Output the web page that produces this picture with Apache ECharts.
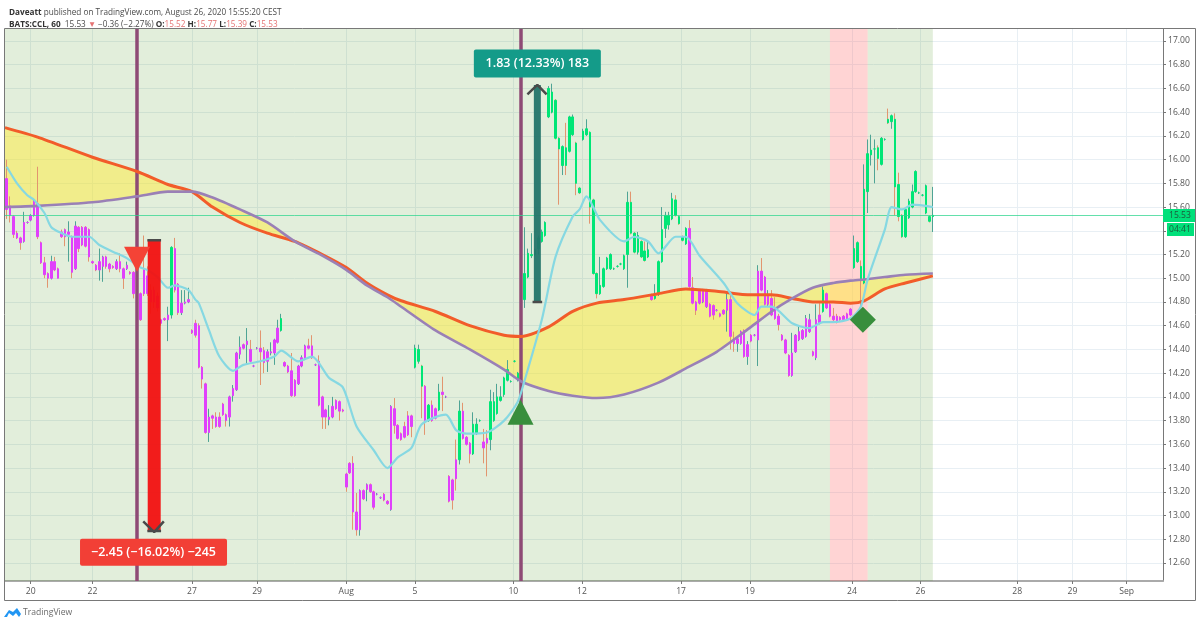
<!DOCTYPE html>
<html>
<head>
<meta charset="utf-8">
<title>BATS:CCL, 60</title>
<script src="https://cdn.jsdelivr.net/npm/echarts@6/dist/echarts.min.js"></script>
<style>
html,body{margin:0;padding:0;background:#fff}
#main{width:1200px;height:625px}
</style>
</head>
<body>
<div id="main"></div>
<script>
// hourly bars: open, close, low, high
var julyBars = [
[15.84,15.58,15.5,16.0],[15.61,15.53,15.47,15.69],[15.52,15.37,15.34,15.53],[15.38,15.34,15.33,15.4],[15.34,15.3,15.24,15.35],
[15.31,15.47,15.3,15.56],[15.47,15.47,15.46,15.48],[15.49,15.53,15.48,15.54],[15.53,15.65,15.52,15.66],[15.63,15.35,15.33,15.94],
[15.3,15.13,15.12,15.31],[15.13,15.03,15.0,15.18],[15.04,15.0,14.92,15.05],[15.0,15.14,14.99,15.19],[15.14,15.07,15.06,15.18],
[15.08,15.0,15.0,15.09],[15.39,15.35,15.34,15.41],[15.41,15.35,15.27,15.42],[15.37,15.39,15.14,15.48],[15.35,15.05,15.0,15.36],
[15.08,15.44,15.07,15.48],[15.43,15.25,15.22,15.44],[15.43,15.28,15.27,15.44],[15.43,15.27,15.26,15.44],[15.41,15.18,15.14,15.42],
[15.14,15.13,15.12,15.15],[15.11,15.07,15.06,15.12],[15.07,15.14,14.98,15.25],[15.1,15.18,14.97,15.19],[15.18,15.1,15.08,15.19],
[15.12,15.08,15.05,15.13],[15.1,15.09,15.08,15.11],[15.08,15.14,15.07,15.16],[15.14,15.08,15.05,15.21],[15.08,15.0,14.91,15.09],
[15.08,15.11,15.07,15.14],[15.05,15.04,15.03,15.06],[15.05,14.87,14.83,15.06],[15.0,14.82,14.8,15.05],[14.87,14.65,14.64,14.88],
[15.07,14.87,14.85,15.36],[15.02,14.87,14.85,15.1],[14.9,14.8,14.7,14.95],[14.9,14.8,14.75,14.93],[14.85,14.75,14.72,14.88],
[14.65,14.62,14.6,14.66],[14.66,14.65,14.64,14.67],[14.65,14.69,14.47,14.76],[14.69,15.26,14.66,15.27],[15.25,14.9,14.88,15.34],
[14.95,14.71,14.69,14.96],[14.71,14.79,14.69,14.9],[14.79,14.8,14.78,14.9],[14.8,14.82,14.79,14.92],[14.56,14.54,14.53,14.57],
[14.62,14.52,14.5,14.65],[14.6,14.25,14.24,14.62],[14.25,14.15,14.07,14.26],[14.11,13.7,13.69,14.12],[13.7,13.83,13.62,13.9],
[13.84,13.82,13.73,13.85],[13.83,13.75,13.74,13.87],[13.83,13.75,13.74,13.87],[13.94,13.85,13.84,13.95],[13.85,13.8,13.75,13.86],
[13.83,14.0,13.75,14.01],[14.01,14.07,13.96,14.1],[14.06,14.37,14.05,14.38],[14.36,14.42,14.32,14.51],[14.44,14.41,14.4,14.45],
[14.44,14.47,14.27,14.58],[14.4,14.3,14.29,14.48],[14.26,14.26,14.25,14.27],[14.41,14.41,14.4,14.42],[14.41,14.38,14.1,14.56],
[14.39,14.29,14.2,14.42],[14.3,14.38,14.21,14.4],[14.37,14.38,14.35,14.46],[14.37,14.48,14.27,14.49],[14.46,14.58,14.45,14.65],
[14.56,14.66,14.55,14.7],[14.29,14.26,14.25,14.3],[14.26,14.21,14.2,14.27],[14.22,14.01,14.0,14.37],[14.14,14.01,14.0,14.15],
[14.11,14.26,14.1,14.27],[14.26,14.33,14.25,14.35],[14.32,14.43,14.31,14.44],[14.43,14.41,14.4,14.49],[14.43,14.33,14.32,14.52],
[14.27,14.27,14.26,14.28],[14.3,13.93,13.92,14.35],[14.0,13.83,13.73,14.01],[13.89,13.83,13.73,13.9],[13.81,13.83,13.76,13.93],
[13.83,13.92,13.82,14.0],[13.97,13.9,13.89,13.98],[13.96,13.88,13.8,13.97],[13.89,13.88,13.87,13.9]
];
var earlyAugBars = [
[13.35,13.24,13.2,13.36],[13.44,13.36,13.35,13.45],[13.44,13.03,12.88,13.5],[13.03,12.88,12.83,13.19],[12.88,13.21,12.83,13.22],
[13.21,13.14,13.13,13.22],[13.22,13.26,13.12,13.27],[13.26,13.2,13.19,13.27],[13.2,13.07,13.05,13.21],[13.18,13.18,13.17,13.19],
[13.15,13.15,13.14,13.16],[13.18,13.13,13.12,13.19],[13.12,13.1,13.09,13.13],[13.05,13.92,13.04,13.93],[13.9,13.76,13.69,13.99],
[13.76,13.65,13.64,13.77],[13.69,13.64,13.63,13.7],[13.75,13.66,13.65,13.79],[13.84,13.68,13.67,13.88],[13.84,13.75,13.66,13.85],
[14.25,14.41,14.24,14.44],[14.3,14.4,14.28,14.44],[14.26,14.09,13.82,14.27],[14.09,13.8,13.68,14.1],[13.8,13.93,13.79,13.94],
[13.93,13.8,13.79,13.97],[13.9,13.82,13.81,13.91],[13.89,14.04,13.88,14.11],[14.04,14.02,13.88,14.17],[14.0,14.0,13.99,14.01],
[13.33,13.12,13.11,13.34],[13.3,13.13,13.05,13.31],[13.47,13.31,13.21,13.64],[13.47,13.88,13.43,13.97],[13.88,13.65,13.64,13.95],
[13.66,13.6,13.59,13.67],[13.61,13.52,13.44,13.62],[13.52,13.77,13.51,13.87],[13.69,13.77,13.68,13.82],[13.8,13.8,13.79,13.81],
[13.62,13.57,13.44,13.73],[13.65,13.61,13.33,13.72],[13.64,13.96,13.55,14.06],[13.8,13.96,13.79,14.04],[13.86,14.0,13.85,14.11],
[13.97,14.0,13.96,14.09],[14.02,14.16,14.0,14.17],[14.14,14.23,14.13,14.31],[14.13,14.13,14.12,14.14],[14.3,14.3,14.29,14.31],
[14.14,14.2,14.13,14.21]
];
var midAugBars = [
[14.14,14.85,14.13,14.9],[14.82,15.04,14.75,15.43],[15.01,15.21,15.0,15.25],[15.19,15.2,15.17,15.38],[15.2,15.24,15.19,15.25],
[15.25,15.34,15.2,15.36],[15.31,15.39,15.3,15.41],[15.36,15.47,15.35,15.48],[16.36,16.6,16.35,16.62],[16.4,16.57,16.39,16.64],
[16.5,16.18,16.17,16.51],[16.18,16.09,15.62,16.19],[15.95,16.11,15.87,16.12],[16.1,15.95,15.87,16.31],[16.07,16.36,16.06,16.37],
[16.21,16.36,16.2,16.38],[16.14,15.8,15.7,16.15],[15.76,15.72,15.71,15.77],[16.17,16.24,16.16,16.26],[16.21,16.26,16.2,16.34],
[16.23,15.6,15.46,16.24],[15.66,15.04,15.03,15.67],[15.04,14.87,14.83,15.05],[14.87,14.94,14.86,15.18],[14.93,15.08,14.92,15.09],
[15.08,15.17,15.07,15.18],[15.08,15.2,15.07,15.21],[15.08,15.08,15.07,15.09],[15.1,15.1,15.09,15.11],[15.12,15.12,15.11,15.13],
[15.08,15.19,15.07,15.2],[15.2,15.64,14.92,15.73],[15.64,15.38,15.37,15.73],[15.38,15.22,15.21,15.39],[15.22,15.36,15.2,15.39],
[15.31,15.18,15.17,15.32],[15.23,15.15,15.14,15.31],[15.18,15.24,15.17,15.32],[14.86,14.82,14.81,14.87],[14.83,14.85,14.82,14.95],
[14.87,15.14,14.85,15.15],[15.14,15.41,15.13,15.6],[15.42,15.53,15.34,15.56],[15.45,15.53,15.41,15.56],[15.5,15.67,15.49,15.72],
[15.66,15.53,15.52,15.7],[15.52,15.46,15.45,15.53],[15.35,15.32,15.31,15.36],[15.29,15.42,15.28,15.43]
];
var lateAugBars = [
[15.42,14.93,14.92,15.49],[14.92,14.79,14.78,15.01],[14.8,14.73,14.69,14.81],[14.79,14.9,14.78,14.91],[14.8,14.9,14.79,14.91],
[14.76,14.9,14.75,14.91],[14.78,14.68,14.67,14.79],[14.77,14.69,14.65,14.78],[14.73,14.73,14.72,14.74],[14.7,14.68,14.67,14.71],
[14.73,14.7,14.69,14.74],[14.73,14.82,14.55,14.89],[14.82,14.51,14.4,14.89],[14.49,14.45,14.38,14.55],[14.45,14.49,14.38,14.5],
[14.45,14.55,14.44,14.56],[14.56,14.34,14.33,14.57],[14.34,14.44,14.27,14.47],[14.52,14.47,14.46,14.53],[14.52,14.52,14.51,14.53],
[14.48,15.06,14.26,15.11],[15.06,14.9,14.89,15.17],[15.01,14.78,14.77,15.02],[14.78,14.86,14.76,14.9],[14.83,14.69,14.68,14.9],
[14.73,14.66,14.65,14.84],[14.68,14.61,14.56,14.7],[14.52,14.48,14.47,14.53],[14.48,14.37,14.36,14.49],[14.35,14.18,14.17,14.36],
[14.18,14.37,14.17,14.54],[14.38,14.52,14.37,14.53],[14.48,14.55,14.47,14.59],[14.49,14.56,14.48,14.57],[14.51,14.66,14.5,14.69],
[14.55,14.65,14.54,14.7],[14.38,14.35,14.34,14.39],[14.33,14.65,14.31,14.78],[14.69,14.62,14.61,14.79],[14.72,14.9,14.71,14.93],
[14.87,14.75,14.74,14.88],[14.78,14.68,14.67,14.79],[14.68,14.65,14.64,14.75],[14.68,14.63,14.62,14.7],[14.67,14.65,14.64,14.68],
[14.68,14.65,14.64,14.69],[14.7,14.65,14.64,14.71],[14.74,14.69,14.68,14.75],[15.09,15.25,15.08,15.36],[15.14,15.3,15.13,15.31],
[15.1,14.98,14.76,15.15],[14.96,15.75,14.95,15.96],[15.73,16.05,15.55,16.17],[16.04,16.08,15.95,16.21],[16.09,16.09,15.8,16.17],
[16.1,16.01,15.91,16.12],[15.96,16.18,15.95,16.19],[16.17,16.17,16.16,16.18],[16.34,16.31,16.3,16.43],[16.32,16.37,16.26,16.38],
[16.34,15.77,15.53,16.39],[15.79,15.52,15.48,15.89],[15.53,15.35,15.34,15.54],[15.35,15.58,15.34,15.59],[15.51,15.65,15.5,15.67],
[15.6,15.73,15.59,15.79],[15.73,15.9,15.72,15.91],[15.72,15.72,15.71,15.73],[15.7,15.7,15.69,15.71],[15.55,15.78,15.54,15.79],
[15.52,15.48,15.47,15.53],[15.52,15.53,15.39,15.77]
];
// bars painted green, everything else is magenta
var greenRanges = [[48,48],[80,80],[119,121],[123,123],[126,126],[132,132],[136,138],[141,187],[189,198],[238,238],[247,270]];

// the two slow averages, same bar numbers for both
var slowIndex = [-0.5,9,25,38,47,54,60,68,76,84,92,99,105,111,115,125,135,145,150,158,165,172,180,190,198,207,217,223,229,235,241,246,250,256,262,270];
var orangeMa = [16.27,16.19,16.02,15.9,15.79,15.73,15.6,15.47,15.38,15.31,15.2,15.09,14.96,14.86,14.81,14.72,14.6,14.52,14.51,14.59,14.72,14.79,14.82,14.87,14.91,14.89,14.86,14.86,14.83,14.8,14.8,14.79,14.81,14.91,14.96,15.02];
var purpleMa = [15.6,15.61,15.64,15.69,15.73,15.73,15.68,15.58,15.47,15.31,15.19,15.07,14.94,14.84,14.76,14.56,14.4,14.23,14.13,14.05,14.01,13.99,14.02,14.12,14.24,14.38,14.59,14.72,14.83,14.92,14.96,14.98,14.99,15.01,15.03,15.04];

// fast average, bar number and price
var blueIndex = [0,3,6,8,11,13,16,19,24,27,32,35,39,41,44,47,49,53,55,56,59,62,66,69,74,78,80,85,89,94,98,102,107,111,114,118,121,128,131,134,140,145,149,151,156,160,165,167,169,173,180,183,187,190,195,198,202,209,213,218,220,223,229,234,238,241,246,249,251,256,258,261,264,270];
var blueMa = [15.94,15.8,15.7,15.66,15.55,15.43,15.38,15.35,15.35,15.28,15.21,15.17,15.09,15.07,15.01,14.92,14.94,14.9,14.82,14.79,14.56,14.34,14.22,14.27,14.3,14.34,14.39,14.3,14.34,14.16,14.08,13.75,13.55,13.4,13.49,13.57,13.77,13.85,13.72,13.69,13.7,13.8,13.96,14.14,14.65,15.18,15.52,15.58,15.69,15.49,15.31,15.35,15.31,15.21,15.35,15.35,15.19,14.96,14.79,14.69,14.76,14.76,14.62,14.58,14.63,14.63,14.66,14.76,14.99,15.41,15.6,15.58,15.62,15.6];

var priceTicks = [12.6,12.8,13,13.2,13.4,13.6,13.8,14,14.2,14.4,14.6,14.8,15,15.2,15.4,15.6,15.8,16,16.2,16.4,16.6,16.8,17];
var dayTicks = [7,25,54,73,99,119,147.7,167.7,196.6,216.7,246.4,266.4,294.6,310.7,326.5];
var dayLabels = ['20','22','27','29','Aug','5','10','12','17','19','24','26','28','29','Sep'];

var lastPrice = 15.53;
var signalBars = [37.8,149.8];   // purple verticals
var sessionBars = [-0.5,240,251,270]; // shading edges

var bars = julyBars.concat(earlyAugBars, midAugBars, lateAugBars);

function isGreen(i){
    for(var k=0;k<greenRanges.length;k++){
        if(i>=greenRanges[k][0] && i<=greenRanges[k][1]) return true;
    }
    return false;
}

// wicks and bodies are two candlestick series, the wick colour follows the
// direction of the bar and the body colour follows the strategy state
var wickData = bars.map(function(b,i){ return [i,b[0],b[1],b[2],b[3]]; });
var bodyData = bars.map(function(b,i){
    var c = isGreen(i) ? '#00e676' : '#e040fb';
    return {
        value:[i,b[0],b[1],Math.min(b[0],b[1]),Math.max(b[0],b[1])],
        itemStyle:{color:c,color0:c,borderColor:c,borderColor0:c,borderColorDoji:c}
    };
});
var yellowData = slowIndex.map(function(x,k){ return [x,orangeMa[k],purpleMa[k]]; });

function zipLine(xs,ys){
    return xs.map(function(x,k){ return [x,ys[k]]; });
}

var chart = echarts.init(document.getElementById('main'));
var font = '"Open Sans", sans-serif';
var headSize = 8.2;
var tickSize = 8.6;

var option = {
    animation:false,
    backgroundColor:'#fff',
    textStyle:{fontFamily:font},
    title:[{
        left:4,top:4,
        text:'{b|Daveatt} published on TradingView.com, August 26, 2020 15:55:20 CEST',
        textStyle:{fontSize:headSize,fontWeight:'normal',color:'#4a4a4a',fontFamily:font,rich:{b:{fontWeight:'bold',fontSize:headSize,color:'#333',fontFamily:font}}}
    },{
        left:4,top:16,
        text:'{b|BATS:CCL, 60}  15.53 {r|▼} −0.36 (−2.27%) {b|O:}{r|15.52} {b|H:}{r|15.77} {b|L:}{r|15.39} {b|C:}{r|15.53}',
        textStyle:{fontSize:headSize,fontWeight:'normal',color:'#4a4a4a',fontFamily:font,rich:{
            b:{fontWeight:'bold',fontSize:headSize,color:'#333',fontFamily:font},
            r:{fontSize:headSize,color:'#e57373',fontFamily:font}
        }}
    }],
    grid:{left:5,right:37,top:29,bottom:44,show:false},
    xAxis:{
        type:'value',min:-0.5,max:337.1,
        axisLine:{show:true,onZero:false,lineStyle:{color:'#aaaaaa',width:2}},
        axisTick:{show:true,length:3,customValues:dayTicks,lineStyle:{color:'#777'}},
        axisLabel:{
            customValues:dayTicks,color:'#555',fontSize:tickSize,margin:6,hideOverlap:false,
            formatter:function(v){ return dayLabels[dayTicks.indexOf(v)]; }
        },
        splitLine:{show:true,lineStyle:{color:'#e8eff4',width:1}}
    },
    yAxis:{
        type:'value',position:'right',min:12.448,max:17.101,
        axisLine:{show:true,onZero:false,lineStyle:{color:'#787878'}},
        axisTick:{show:true,length:3,customValues:priceTicks,lineStyle:{color:'#777'}},
        axisLabel:{
            customValues:priceTicks,color:'#555',fontSize:tickSize,margin:5,
            formatter:function(v){ return v.toFixed(2); }
        },
        splitLine:{show:true,lineStyle:{color:'#e8eff4',width:1}}
    },
    series:[
        {
            name:'background',type:'line',data:[],z:1,silent:true,
            markArea:{
                silent:true,
                data:[
                    [{xAxis:sessionBars[0],itemStyle:{color:'rgba(76,150,30,0.16)'}},{xAxis:sessionBars[1]}],
                    [{xAxis:sessionBars[1],itemStyle:{color:'rgba(255,82,82,0.25)'}},{xAxis:sessionBars[2]}],
                    [{xAxis:sessionBars[2],itemStyle:{color:'rgba(76,150,30,0.16)'}},{xAxis:sessionBars[3]}]
                ]
            },
            markLine:{
                silent:true,symbol:'none',label:{show:false},
                lineStyle:{color:'#8e4a75',width:3.5,type:'solid'},
                data:signalBars.map(function(x){ return {xAxis:x}; })
            }
        },
        {
            name:'last price',type:'line',data:[],z:2,silent:true,
            markLine:{
                silent:true,symbol:'none',label:{show:false},
                lineStyle:{color:'#2fd68f',width:1,type:'solid',opacity:0.75},
                data:[{yAxis:lastPrice}]
            }
        },
        {
            name:'cloud',type:'custom',data:yellowData,z:2,silent:true,
            encode:{x:0,y:[1,2]},
            renderItem:function(params,api){
                if(params.dataIndex!==0) return null;
                var pts = [];
                for(var k=0;k<yellowData.length;k++) pts.push(api.coord([yellowData[k][0],yellowData[k][1]]));
                for(k=yellowData.length-1;k>=0;k--) pts.push(api.coord([yellowData[k][0],yellowData[k][2]]));
                return {type:'polygon',shape:{points:pts},style:{fill:'rgba(255,235,59,0.5)'}};
            }
        },
        {
            name:'wicks',type:'candlestick',data:wickData,z:3,barWidth:1,silent:true,
            itemStyle:{
                color:'#4fa495',color0:'#e2956f',borderColor:'#4fa495',borderColor0:'#e2956f',borderColorDoji:'#4fa495',borderWidth:1
            }
        },
        {
            name:'bars',type:'candlestick',data:bodyData,z:4,barWidth:2,silent:true,
            itemStyle:{borderWidth:1}
        },
        {
            name:'orange ma',type:'line',data:zipLine(slowIndex,orangeMa),z:5,showSymbol:false,smooth:0.25,silent:true,
            lineStyle:{color:'#f25c2a',width:3}
        },
        {
            name:'purple ma',type:'line',data:zipLine(slowIndex,purpleMa),z:5,showSymbol:false,smooth:0.25,silent:true,
            lineStyle:{color:'#9a80b6',width:2.6}
        },
        {
            name:'fast ma',type:'line',data:zipLine(blueIndex,blueMa),z:5,showSymbol:false,smooth:0.25,silent:true,
            lineStyle:{color:'#86d8e2',width:2.2}
        },
        {
            name:'down move',type:'line',data:[[43,15.32],[43,12.87]],z:6,showSymbol:false,silent:true,
            lineStyle:{color:'#f20f0f',width:13,opacity:0.94,cap:'butt'}
        },
        {
            name:'up move',type:'line',data:[[154.7,14.8],[154.7,16.63]],z:6,showSymbol:false,silent:true,
            lineStyle:{color:'#23746a',width:7,opacity:0.95,cap:'butt'}
        },
        {
            name:'arrow heads',type:'line',z:7,showSymbol:false,silent:true,connectNulls:false,
            data:[[39.8,12.95],[43,12.86],[45.8,12.95],'-',[41,12.87],[45,12.87],'-',[41,15.32],[45,15.32],'-',
                  [151.8,16.55],[154.7,16.63],[157.4,16.55],'-',[153.3,14.8],[156.1,14.8]],
            lineStyle:{color:'#4a4a4a',width:2.5}
        },
        {
            name:'short signal',type:'scatter',data:[[38,15.16]],z:8,silent:true,
            symbol:'triangle',symbolRotate:180,symbolSize:[26,25],itemStyle:{color:'#f44336',opacity:1}
        },
        {
            name:'long signal',type:'scatter',data:[[149.8,13.87]],z:8,silent:true,
            symbol:'triangle',symbolSize:[26,25],itemStyle:{color:'#388e3c',opacity:1}
        },
        {
            name:'exit signal',type:'scatter',data:[[249.6,14.65]],z:8,silent:true,
            symbol:'diamond',symbolSize:[26,26],itemStyle:{color:'#388e3c',opacity:1}
        },
        {
            name:'down label',type:'scatter',data:[[42.8,12.69]],z:9,silent:true,symbolSize:1,
            itemStyle:{color:'rgba(0,0,0,0)',opacity:1},
            label:{show:true,position:'inside',formatter:'−2.45 (−16.02%) −245',color:'#fff',fontSize:12.5,fontWeight:600,opacity:1,
                backgroundColor:'#f23f36',borderRadius:2,width:147,height:27,lineHeight:27,align:'center',verticalAlign:'middle'}
        },
        {
            name:'up label',type:'scatter',data:[[154.7,16.81]],z:9,silent:true,symbolSize:1,
            itemStyle:{color:'rgba(0,0,0,0)',opacity:1},
            label:{show:true,position:'inside',formatter:'1.83 (12.33%) 183',color:'#fff',fontSize:12.5,fontWeight:600,opacity:1,
                backgroundColor:'#149b89',borderRadius:2,width:127,height:28,lineHeight:28,align:'center',verticalAlign:'middle'}
        }
    ],
    graphic:[
        {type:'rect',z:20,silent:true,shape:{x:4.5,y:28.5,width:1191,height:572},style:{fill:'none',stroke:'#787878',lineWidth:1}},
        {type:'rect',z:20,silent:true,shape:{x:1163,y:209,width:32,height:13},style:{fill:'#00e07a'}},
        {type:'text',z:21,silent:true,x:1169,y:215.5,style:{text:'15.53',fill:'#1c5a3c',font:tickSize+'px '+font,verticalAlign:'middle'}},
        {type:'rect',z:20,silent:true,shape:{x:1167,y:223,width:27,height:13},style:{fill:'#00e07a'}},
        {type:'text',z:21,silent:true,x:1169,y:229.5,style:{text:'04:41',fill:'#1c5a3c',font:tickSize+'px '+font,verticalAlign:'middle'}},
        {type:'polygon',z:20,silent:true,shape:{points:[[4,617],[9,610],[13,612],[17,608],[21,614],[19,617],[16,613],[13,616],[9,613],[7,617]]},style:{fill:'#2196f3'}},
        {type:'text',z:21,silent:true,x:23,y:612.5,style:{text:'TradingView',fill:'#6a6a6a',font:'8.6px '+font,verticalAlign:'middle'}}
    ]
};
chart.setOption(option);
</script>
</body>
</html>
